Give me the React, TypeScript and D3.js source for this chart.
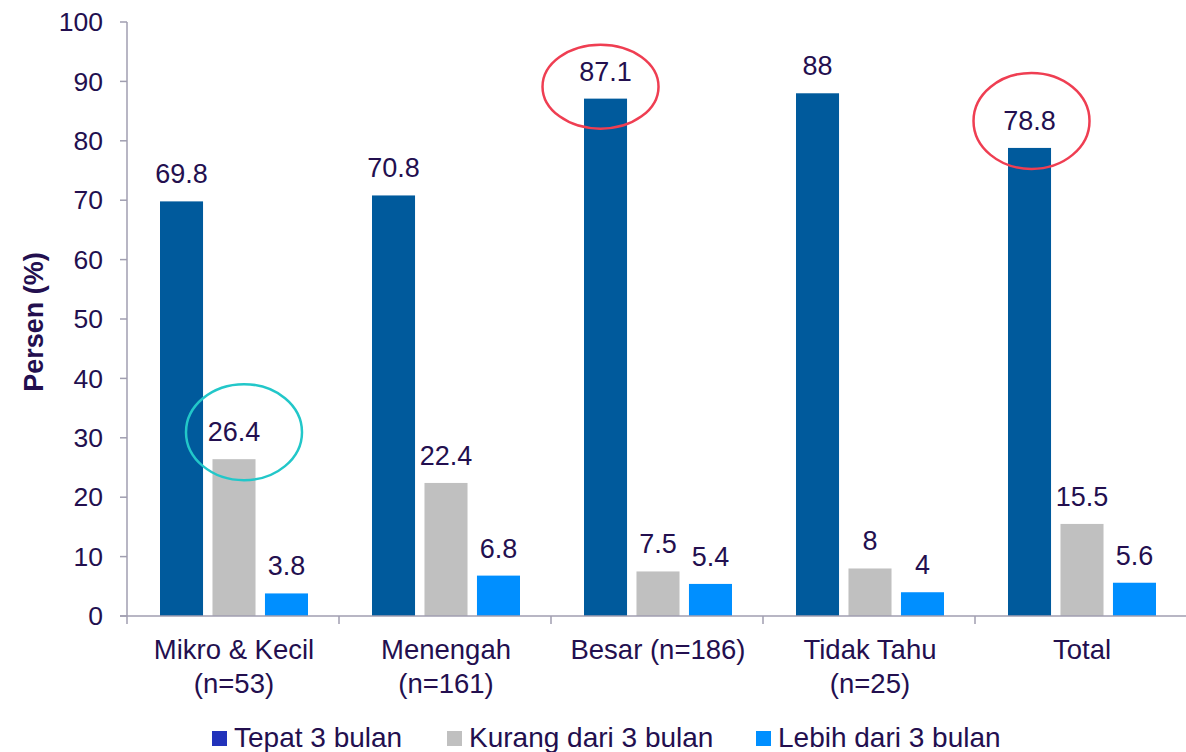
import React from "react";
import * as d3 from "d3";

const categories = ["Mikro & Kecil", "Menengah", "Besar", "Tidak Tahu", "Total"];
const categoryLines = [
  ["Mikro & Kecil", "(n=53)"],
  ["Menengah", "(n=161)"],
  ["Besar (n=186)"],
  ["Tidak Tahu", "(n=25)"],
  ["Total"],
];
const seriesNames = ["Tepat 3 bulan", "Kurang dari 3 bulan", "Lebih dari 3 bulan"];
const tepat = [69.8, 70.8, 87.1, 88, 78.8];
const kurang = [26.4, 22.4, 7.5, 8, 15.5];
const lebih = [3.8, 6.8, 5.4, 4, 5.6];
const yTicks = [0, 10, 20, 30, 40, 50, 60, 70, 80, 90, 100];

// highlighted labels: series index, category index, colour
const highlights = [
  { s: 1, c: 0, color: "#22c7c9", dx: 10, dy: -27, rx: 58, ry: 48 },
  { s: 0, c: 2, color: "#ef3e52", dx: -5, dy: -12, rx: 58, ry: 42 },
  { s: 0, c: 4, color: "#ef3e52", dx: 2, dy: -27, rx: 58, ry: 48 },
];

const barColors = ["#005a9c", "#c0c0c0", "#008fff"];
const legendColors = ["#2233bb", "#c0c0c0", "#008fff"];
const textColor = "#230f4f";
const axisColor = "#a09eb0";
const font = "'Liberation Sans', Arial, sans-serif";

export default function App() {
  const width = 1186;
  const height = 752;
  const left = 127;
  const values = [tepat, kurang, lebih];

  const x = d3.scaleBand().domain(categories).range([left, left + 212 * 5]).padding(0);
  const xs = d3.scaleBand().domain(seriesNames).range([33, 181]).paddingInner(0.18);
  const y = d3.scaleLinear().domain([0, 100]).range([616, 22]);

  const barX = (s: number, c: number) => (x(categories[c]) ?? 0) + (xs(seriesNames[s]) ?? 0);
  const bw = xs.bandwidth();

  const legendX = [212, 447, 756];

  return (
    <svg
      width={width}
      height={height}
      style={{ position: "absolute", left: 0, top: 0, fontFamily: font }}
    >
      <rect width={width} height={height} fill="#fff" />

      {/* y axis */}
      <line x1={left} x2={left} y1={y(100)} y2={y(0)} stroke={axisColor} strokeWidth={1.5} />
      {yTicks.map((t) => (
        <g key={t}>
          <line x1={left - 7} x2={left} y1={y(t)} y2={y(t)} stroke={axisColor} strokeWidth={1.5} />
          <text x={103} y={y(t)} dy="0.35em" textAnchor="end" fontSize={26.5} fill={textColor}>
            {t}
          </text>
        </g>
      ))}
      <text
        transform={`translate(43, ${y(50) + 3}) rotate(-90)`}
        textAnchor="middle"
        fontSize={27}
        fontWeight="bold"
        fill={textColor}
      >
        Persen (%)
      </text>

      {/* bars */}
      {values.map((vals, s) =>
        vals.map((v, c) => (
          <g key={`${s}-${c}`}>
            <rect
              x={barX(s, c)}
              y={y(v)}
              width={bw}
              height={y(0) - y(v)}
              fill={barColors[s]}
            />
            <text
              x={barX(s, c) + bw / 2}
              y={y(v) - 18}
              textAnchor="middle"
              fontSize={27}
              fill={textColor}
            >
              {v}
            </text>
          </g>
        ))
      )}

      {/* x axis */}
      <line x1={left - 7} x2={width} y1={y(0)} y2={y(0)} stroke={axisColor} strokeWidth={1.5} />
      {categories.map((c) => (
        <line
          key={c}
          x1={x(c)}
          x2={x(c)}
          y1={y(0)}
          y2={y(0) + 8}
          stroke={axisColor}
          strokeWidth={1.5}
        />
      ))}
      {categories.map((c, i) => (
        <text
          key={c}
          x={(x(c) ?? 0) + x.bandwidth() / 2 + 1}
          y={659}
          textAnchor="middle"
          fontSize={27.5}
          fill={textColor}
        >
          {categoryLines[i].map((line, j) => (
            <tspan key={j} x={(x(c) ?? 0) + x.bandwidth() / 2 + 1} dy={j === 0 ? 0 : 34}>
              {line}
            </tspan>
          ))}
        </text>
      ))}

      {/* highlight ellipses */}
      {highlights.map((h, i) => (
        <ellipse
          key={i}
          cx={barX(h.s, h.c) + bw / 2 + h.dx}
          cy={y(values[h.s][h.c]) + h.dy}
          rx={h.rx}
          ry={h.ry}
          fill="none"
          stroke={h.color}
          strokeWidth={2.5}
        />
      ))}

      {/* legend */}
      {seriesNames.map((name, i) => (
        <g key={name}>
          <rect x={legendX[i]} y={731} width={15} height={15} fill={legendColors[i]} />
          <text x={legendX[i] + 22} y={747} fontSize={28} fill={textColor}>
            {name}
          </text>
        </g>
      ))}
    </svg>
  );
}
